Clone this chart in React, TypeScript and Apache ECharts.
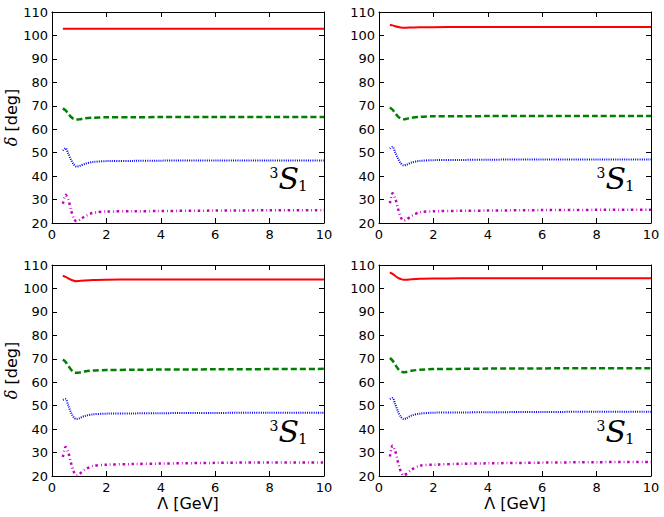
import React, { useEffect, useRef } from "react";
import * as echarts from "echarts";

// Cutoff values Λ [GeV] at which the phase shifts are sampled
const LAMBDA = [0.4, 0.5, 0.6, 0.7, 0.8, 0.9, 1.0, 1.2, 1.5, 2, 3, 4, 6, 8, 10];

// Axis ranges / ticks
const X_MIN = 0;
const X_MAX = 10;
const X_STEP = 2;
const Y_MIN = 20;
const Y_MAX = 110;
const Y_STEP = 10;

// Panel 1 (top left)
const P1_RED = [102.9, 102.9, 102.9, 102.9, 102.9, 102.9, 102.9, 102.9, 102.9, 102.9, 102.9, 102.9, 102.9, 102.9, 102.9];
const P1_GREEN = [68.9, 68.0, 66.6, 65.2, 64.4, 64.1, 64.2, 64.6, 64.9, 65.1, 65.1, 65.2, 65.2, 65.2, 65.2];
const P1_BLUE = [50.9, 51.9, 49.5, 47.0, 45.0, 44.1, 44.3, 45.2, 46.0, 46.4, 46.5, 46.6, 46.7, 46.7, 46.7];
const P1_MAGENTA = [28.2, 32.0, 30.0, 25.5, 22.0, 20.7, 21.2, 22.8, 24.3, 24.9, 25.0, 25.1, 25.3, 25.4, 25.4];

// Panel 2 (top right)
const P2_RED = [104.6, 104.3, 103.9, 103.6, 103.4, 103.3, 103.3, 103.4, 103.5, 103.5, 103.6, 103.6, 103.6, 103.6, 103.6];
const P2_GREEN = [69.3, 68.3, 66.8, 65.4, 64.6, 64.3, 64.4, 64.9, 65.3, 65.5, 65.5, 65.6, 65.6, 65.6, 65.6];
const P2_BLUE = [51.8, 52.5, 50.0, 47.5, 45.5, 44.6, 44.8, 45.8, 46.5, 46.8, 46.9, 47.0, 47.1, 47.1, 47.1];
const P2_MAGENTA = [28.4, 32.7, 30.5, 26.0, 22.5, 21.0, 21.4, 23.0, 24.6, 25.0, 25.2, 25.3, 25.5, 25.6, 25.6];

// Panel 3 (bottom left)
const P3_RED = [105.4, 104.9, 104.3, 103.7, 103.3, 103.1, 103.2, 103.4, 103.6, 103.7, 103.8, 103.8, 103.8, 103.8, 103.8];
const P3_GREEN = [69.7, 68.7, 67.0, 65.4, 64.4, 64.0, 64.1, 64.6, 65.0, 65.2, 65.3, 65.4, 65.5, 65.6, 65.7];
const P3_BLUE = [52.5, 52.8, 50.0, 47.0, 45.0, 44.3, 44.6, 45.6, 46.3, 46.6, 46.7, 46.8, 46.9, 47.0, 47.0];
const P3_MAGENTA = [28.1, 32.4, 30.0, 25.5, 21.8, 20.3, 20.8, 22.6, 24.3, 24.8, 25.1, 25.3, 25.6, 25.8, 25.8];

// Panel 4 (bottom right)
const P4_RED = [106.9, 106.2, 105.3, 104.5, 104.0, 103.7, 103.7, 103.9, 104.1, 104.2, 104.3, 104.3, 104.4, 104.4, 104.4];
const P4_GREEN = [70.3, 69.2, 67.4, 65.7, 64.7, 64.3, 64.4, 64.9, 65.3, 65.6, 65.7, 65.8, 65.9, 66.0, 66.0];
const P4_BLUE = [52.8, 53.3, 50.5, 47.5, 45.3, 44.3, 44.6, 45.8, 46.6, 47.0, 47.1, 47.2, 47.3, 47.4, 47.4];
const P4_MAGENTA = [28.3, 33.0, 30.5, 25.8, 22.0, 20.3, 20.8, 22.7, 24.4, 24.8, 25.2, 25.4, 25.7, 25.9, 26.0];

const PANEL_DATA = [
  [P1_RED, P1_GREEN, P1_BLUE, P1_MAGENTA],
  [P2_RED, P2_GREEN, P2_BLUE, P2_MAGENTA],
  [P3_RED, P3_GREEN, P3_BLUE, P3_MAGENTA],
  [P4_RED, P4_GREEN, P4_BLUE, P4_MAGENTA],
];

// Label position (data coords) for the ³S₁ annotation
const ANNOT_POS = [8.0, 33.5];

const LINE_STYLES = [
  { color: "#ff0000", width: 2, type: "solid" as any },
  { color: "#008000", width: 2.5, type: [6, 3] as any },
  { color: "#0000ff", width: 2, type: [1, 1.2] as any },
  { color: "#bf00bf", width: 2.5, type: [2.5, 3, 0.8, 2.7] as any },
];

const GRIDS = [
  { left: 52, top: 12, width: 272, height: 211 },
  { left: 379, top: 12, width: 272, height: 211 },
  { left: 52, top: 265, width: 272, height: 211 },
  { left: 379, top: 265, width: 272, height: 211 },
];

const TICK_FONT = "DejaVu Sans";

export default function App() {
  const ref = useRef<HTMLDivElement>(null);

  useEffect(() => {
    if (!ref.current) return;
    const chart = echarts.init(ref.current, undefined, { renderer: "svg" });

    const axisLine = { show: true, onZero: false, lineStyle: { color: "#000", width: 1 } };
    const axisTick = { show: true, inside: true, length: 5, lineStyle: { color: "#000", width: 1 } };

    const xAxis: any[] = [];
    const yAxis: any[] = [];
    const series: any[] = [];

    GRIDS.forEach((_, i) => {
      const isBottom = i >= 2;
      const isLeft = i % 2 === 0;
      xAxis.push({
        gridIndex: i,
        type: "value",
        position: "bottom",
        min: X_MIN,
        max: X_MAX,
        interval: X_STEP,
        axisLine,
        axisTick,
        splitLine: { show: false },
        axisLabel: {
          show: true,
          color: "#000",
          fontSize: 13,
          fontFamily: TICK_FONT,
          margin: 5,
          showMinLabel: true,
          showMaxLabel: true,
        },
        name: isBottom ? "Λ [GeV]" : "",
        nameLocation: "middle",
        nameGap: 19,
        nameTextStyle: { color: "#000", fontSize: 16, fontFamily: TICK_FONT },
      });
      xAxis.push({
        gridIndex: i,
        type: "value",
        position: "top",
        min: X_MIN,
        max: X_MAX,
        interval: X_STEP,
        axisLine,
        axisTick,
        splitLine: { show: false },
        axisLabel: { show: false },
      });
      yAxis.push({
        gridIndex: i,
        type: "value",
        position: "left",
        min: Y_MIN,
        max: Y_MAX,
        interval: Y_STEP,
        axisLine,
        axisTick,
        splitLine: { show: false },
        axisLabel: {
          show: true,
          color: "#000",
          fontSize: 13,
          fontFamily: TICK_FONT,
          margin: 4,
          showMinLabel: true,
          showMaxLabel: true,
        },
        name: isLeft ? "{d|δ} [deg]" : "",
        nameLocation: "middle",
        nameRotate: 90,
        nameGap: 30,
        nameTextStyle: {
          color: "#000",
          fontSize: 16,
          fontFamily: TICK_FONT,
          rich: {
            d: { fontFamily: "DejaVu Serif", fontStyle: "italic", fontSize: 16, color: "#000" },
          },
        },
      });
      yAxis.push({
        gridIndex: i,
        type: "value",
        position: "right",
        min: Y_MIN,
        max: Y_MAX,
        interval: Y_STEP,
        axisLine,
        axisTick,
        splitLine: { show: false },
        axisLabel: { show: false },
      });

      PANEL_DATA[i].forEach((vals, s) => {
        const st = LINE_STYLES[s];
        series.push({
          type: "line",
          xAxisIndex: 2 * i,
          yAxisIndex: 2 * i,
          data: LAMBDA.map((x, k) => [x, vals[k]]),
          showSymbol: false,
          smooth: 0.3,
          lineStyle: { color: st.color, width: st.width, type: st.type },
          silent: true,
        });
      });
    });

    chart.setOption({
      animation: false,
      backgroundColor: "#fff",
      grid: GRIDS.map((g) => ({ ...g, containLabel: false })),
      xAxis,
      yAxis,
      series,
    });

    const graphic: any[] = [];
    GRIDS.forEach((_, i) => {
      const p = chart.convertToPixel({ xAxisIndex: 2 * i, yAxisIndex: 2 * i } as any, ANNOT_POS) as number[];
      if (!p) return;
      graphic.push({
        type: "group",
        x: p[0],
        y: p[1],
        silent: true,
        children: [
          {
            type: "text",
            x: 0,
            y: -18.5,
            style: { text: "3", font: '14px "DejaVu Serif"', fill: "#000", align: "left", verticalAlign: "middle" },
          },
          {
            type: "text",
            x: 9,
            y: -12.5,
            style: { text: "S", font: 'italic 30px "DejaVu Serif"', fill: "#000", align: "left", verticalAlign: "middle" },
          },
          {
            type: "text",
            x: 28.5,
            y: -5,
            style: { text: "1", font: '15px "DejaVu Serif"', fill: "#000", align: "left", verticalAlign: "middle" },
          },
        ],
      });
    });
    chart.setOption({ graphic });

    return () => chart.dispose();
  }, []);

  return (
    <div
      ref={ref}
      style={{ position: "absolute", left: 0, top: 0, width: 664, height: 517, background: "#fff" }}
    />
  );
}
